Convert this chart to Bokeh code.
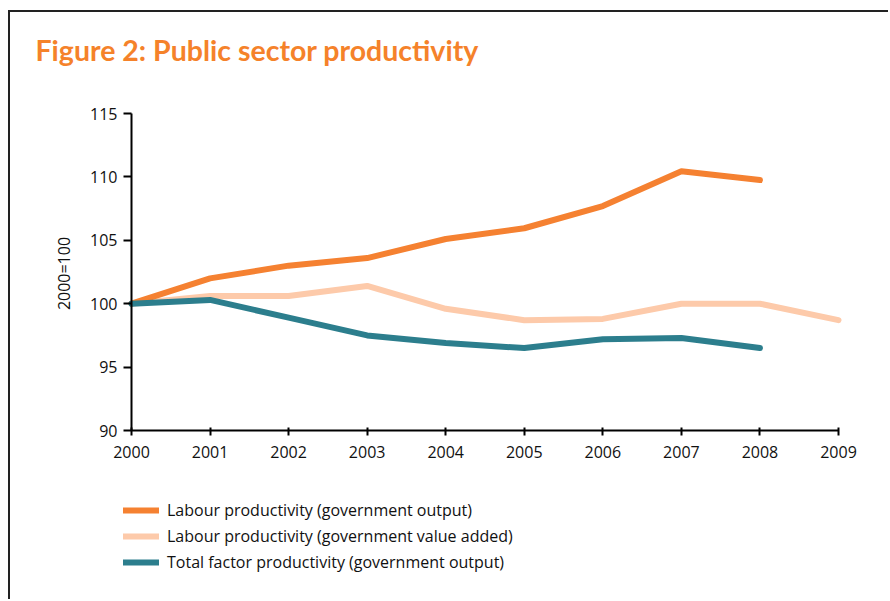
from bokeh.plotting import figure
from bokeh.models import Legend, LegendItem, FixedTicker, Title, Label
from bokeh.embed import file_html
from bokeh.resources import INLINE

years_a = [2000, 2001, 2002, 2003, 2004, 2005, 2006, 2007, 2008]
labour_output = [100.0, 102.0, 103.0, 103.6, 105.1, 105.95, 107.7, 110.45, 109.75]

years_b = [2000, 2001, 2002, 2003, 2004, 2005, 2006, 2007, 2008, 2009]
labour_va = [100.0, 100.6, 100.6, 101.4, 99.6, 98.7, 98.8, 100.0, 100.0, 98.7]

years_c = [2000, 2001, 2002, 2003, 2004, 2005, 2006, 2007, 2008]
tfp_output = [100.0, 100.3, 98.9, 97.5, 96.9, 96.5, 97.2, 97.3, 96.5]

x_ticks = list(range(2000, 2010))
y_ticks = [90, 95, 100, 105, 110, 115]

names = ["Labour productivity (government output)",
         "Labour productivity (government value added)",
         "Total factor productivity (government output)"]
colors = ["#F58131", "#FDCAAA", "#2C7E8D"]

FONT = "Open Sans"

p = figure(width=880, height=589, output_backend="svg", toolbar_location=None,
           x_range=(1999.0198, 2009.3055), y_range=(78.565, 117.445),
           min_border_left=44, min_border_right=28,
           min_border_top=70, min_border_bottom=26)
p.margin = (10, 0, 0, 8)
p.styles = {"border-left": "2px solid #222222", "border-top": "2px solid #222222"}
p.outline_line_color = None
p.grid.visible = False
p.background_fill_color = "white"
p.border_fill_color = "white"

t = Title(text="Figure 2: Public sector productivity", align="left",
          vertical_align="bottom",
          text_font="Lato", text_font_size="28.5px", text_font_style="bold",
          text_color="#F5822A", offset=-19, standoff=31)
p.add_layout(t, "above")

r_va = p.line(years_b, labour_va, line_color=colors[1], line_width=6,
              line_cap="round", line_join="round")
r_lo = p.line(years_a, labour_output, line_color=colors[0], line_width=6,
              line_cap="round", line_join="round")
r_tfp = p.line(years_c, tfp_output, line_color=colors[2], line_width=6,
               line_cap="round", line_join="round")

xa = p.xaxis[0]
xa.fixed_location = 90
xa.ticker = FixedTicker(ticks=x_ticks)
xa.bounds = (2000, 2009)
xa.minor_tick_line_color = None
xa.major_tick_in = 3
xa.major_tick_out = 5
xa.axis_line_width = 2
xa.major_tick_line_width = 2
xa.axis_line_color = "black"
xa.major_tick_line_color = "black"
xa.major_label_text_font = FONT
xa.major_label_text_font_size = "16px"
xa.major_label_text_color = "#111111"
xa.major_label_standoff = 10

ya = p.yaxis[0]
ya.fixed_location = 2000
ya.ticker = FixedTicker(ticks=y_ticks)
ya.bounds = (90, 115)
ya.minor_tick_line_color = None
ya.major_tick_in = 0
ya.major_tick_out = 8
ya.axis_line_width = 2
ya.major_tick_line_width = 2
ya.axis_line_color = "black"
ya.major_tick_line_color = "black"
ya.major_label_text_font = FONT
ya.major_label_text_font_size = "16px"
ya.major_label_text_color = "#111111"
ya.major_label_standoff = 6

y_label = Label(x=1999.141, y=102.38, text="2000=100", angle=1.5708,
                text_align="center", text_baseline="middle",
                text_font=FONT, text_font_size="16px", text_color="#111111")
p.add_layout(y_label)

legend = Legend(items=[LegendItem(label=names[0], renderers=[r_lo]),
                       LegendItem(label=names[1], renderers=[r_va]),
                       LegendItem(label=names[2], renderers=[r_tfp])],
                location=(69, 2), orientation="vertical",
                glyph_width=36, glyph_height=20, label_standoff=8, spacing=4,
                padding=0, margin=0, border_line_color=None,
                background_fill_alpha=0,
                label_text_font=FONT, label_text_font_size="16px",
                label_text_color="#111111")
p.add_layout(legend, "center")

open("out.html", "w").write(file_html(p, INLINE))
